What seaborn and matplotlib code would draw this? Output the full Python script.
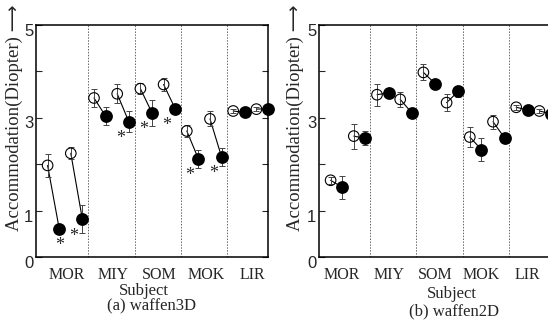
import matplotlib
matplotlib.use('Agg')
import numpy as np
import pandas as pd
import seaborn as sns
import matplotlib.pyplot as plt
from matplotlib.transforms import ScaledTranslation

subjects = ['MOR', 'MIY', 'SOM', 'MOK', 'LIR']

# 2 pairs per subject: open = before, filled = after
open_3d = [1.97, 2.23, 3.42, 3.51, 3.62, 3.71, 2.71, 2.97, 3.14, 3.18]
open_3d_err = [0.24, 0.13, 0.20, 0.20, 0.12, 0.13, 0.13, 0.16, 0.04, 0.04]
filled_3d = [0.61, 0.81, 3.03, 2.91, 3.10, 3.19, 2.11, 2.15, 3.11, 3.19]
filled_3d_err = [0.03, 0.30, 0.19, 0.23, 0.28, 0.03, 0.20, 0.19, 0.03, 0.03]
star_3d = [1, 1, 0, 1, 1, 1, 1, 1, 0, 0]

open_2d = [1.65, 2.60, 3.49, 3.39, 3.97, 3.32, 2.58, 2.91, 3.22, 3.14]
open_2d_err = [0.08, 0.27, 0.24, 0.16, 0.17, 0.19, 0.22, 0.15, 0.05, 0.04]
filled_2d = [1.50, 2.55, 3.53, 3.10, 3.73, 3.56, 2.31, 2.56, 3.16, 3.08]
filled_2d_err = [0.25, 0.15, 0.04, 0.04, 0.08, 0.12, 0.24, 0.04, 0.03, 0.03]
star_2d = [0] * 10

sns.set_style('white')
plt.rcParams['font.family'] = ['Liberation Serif', 'DejaVu Sans']
plt.rcParams['axes.linewidth'] = 1.1


def tabela(op, op_err, fi, fi_err):
    n = len(op)
    df = pd.DataFrame({
        'x': np.concatenate([np.arange(n) * 2, np.arange(n) * 2 + 1]),
        'y': op + fi,
        'err': op_err + fi_err,
        'tipo': ['open'] * n + ['filled'] * n,
        'par': list(range(n)) * 2,
    })
    return df


def painel(ax, df, stars, seps, lab_x, lab_y, right_ticks):
    sns.lineplot(data=df, x='x', y='y', units='par', estimator=None,
                 color='black', lw=0.8, ax=ax, legend=False, zorder=2)
    ax.errorbar(df['x'], df['y'], yerr=df['err'], fmt='none', ecolor='#444444',
                elinewidth=0.7, capsize=2, capthick=0.7, zorder=3, clip_on=False)
    op = df[df['tipo'] == 'open']
    fi = df[df['tipo'] == 'filled']
    sns.scatterplot(data=op, x='x', y='y', s=58, marker='o', facecolor='none',
                    edgecolor='black', linewidth=0.8, ax=ax, zorder=4, clip_on=False)
    sns.scatterplot(data=fi, x='x', y='y', s=85, marker='o', color='black',
                    edgecolor='black', linewidth=0, ax=ax, zorder=5, clip_on=False)

    for i, (xx, yy) in enumerate(zip(fi['x'], fi['y'])):
        if stars[i]:
            dx = 0 if i == 0 else -6
            ax.annotate('*', (xx, yy), xytext=(dx, -12), textcoords='offset points',
                        ha='center', va='center', fontsize=13)

    for s in seps:
        ax.axvline(s, color='#666666', lw=0.7, ls=(0, (1.5, 1.5)), zorder=1)

    ax.set_xlim(-1, 19)
    ax.set_ylim(0, 5)
    ax.set_xticks(lab_x, subjects, fontsize=11.5)
    ax.set_yticks([0, 1, 2, 3, 4, 5], ['0', '1', '', '3', '', '5'],
                  fontsize=12, family='Liberation Sans')
    ax.tick_params(axis='y', direction='in', length=4, width=0.8, pad=2,
                   right=right_ticks, left=True)
    for lab in ax.get_yticklabels():
        lab.set_transform(lab.get_transform() + ScaledTranslation(0, -0.05, ax.figure.dpi_scale_trans))
    ax.set_xlabel('Subject', fontsize=12)
    ax.set_ylabel('Accommodation(Diopter) \u27f6', fontsize=13.5)
    ax.yaxis.set_label_coords(lab_y, 0.6)
    for sp in ax.spines.values():
        sp.set_color('black')
    return ax


fig = plt.figure(figsize=(5.48, 3.2), dpi=100)
ax1 = fig.add_axes([36 / 548, 63 / 320, 232 / 548, 232.5 / 320])
ax2 = fig.add_axes([319 / 548, 63 / 320, 232 / 548, 232.5 / 320])

df3 = tabela(open_3d, open_3d_err, filled_3d, filled_3d_err)
df2 = tabela(open_2d, open_2d_err, filled_2d, filled_2d_err)

painel(ax1, df3, star_3d, [3.5, 7.5, 11.5, 15.5], np.arange(5) * 4 + 1.65, -0.056, True)
painel(ax2, df2, star_2d, [3.4, 7.4, 11.4, 15.4], np.arange(5) * 4 + 1.1, -0.064, False)

# x ticks: none on the left panel, small inward ticks on the right one
ax1.tick_params(axis='x', length=0, pad=7)
ax2.tick_params(axis='x', direction='in', length=4, width=0.8, pad=7)
ax2.set_xticks([1, 3, 5, 7, 9, 11, 13, 15, 17, 19], minor=True)
ax2.tick_params(axis='x', which='minor', direction='in', length=4, width=0.8)
ax2.set_xticks([1, 5, 9, 13, 17], subjects, fontsize=11.5)

ax1.xaxis.set_label_coords(0.466, -0.11)
ax2.xaxis.set_label_coords(0.573, -0.123)
ax1.text(0.496, -0.213, '(a) waffen3D', transform=ax1.transAxes, ha='center', va='center', fontsize=12)
ax2.text(0.582, -0.232, '(b) waffen2D', transform=ax2.transAxes, ha='center', va='center', fontsize=12)

plt.savefig('out.png', dpi=100)
